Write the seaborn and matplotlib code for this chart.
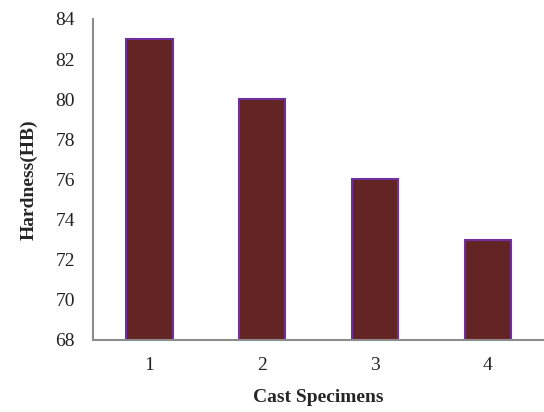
import pandas as pd
import matplotlib
matplotlib.use("Agg")
import matplotlib.pyplot as plt
import seaborn as sns

# Hardness of cast specimens
specimens = ["1", "2", "3", "4"]
hardness = [83, 80, 76, 73]

df = pd.DataFrame({"specimen": specimens, "hardness": hardness})

sns.set_style("white")
plt.rcParams['font.family'] = ['Liberation Serif', 'DejaVu Serif']

fig = plt.figure(figsize=(5.44, 4.12), dpi=100)
ax = fig.add_axes([0.171, 0.175, 0.829, 0.779])

sns.barplot(data=df, x="specimen", y="hardness", color="#632523",
            saturation=1, width=0.41, edgecolor="#7030A0", linewidth=1.5, ax=ax)

ax.set_ylim(68, 84)
ax.set_yticks(range(68, 85, 2))
ax.set_xlim(-0.5, 3.5)
ax.tick_params(axis='both', length=0, labelsize=14, colors='#222222')
ax.tick_params(axis='y', pad=13)
ax.tick_params(axis='x', pad=12)

ax.set_xlabel("Cast Specimens", fontsize=14, fontweight='bold', labelpad=11)
ax.set_ylabel("Hardness(HB)", fontsize=14, fontweight='bold', labelpad=13)

for side in ['top', 'right']:
    ax.spines[side].set_visible(False)
for side in ['left', 'bottom']:
    ax.spines[side].set_color('#8c8c8c')
    ax.spines[side].set_linewidth(1.5)

fig.savefig("out.png", dpi=100)
